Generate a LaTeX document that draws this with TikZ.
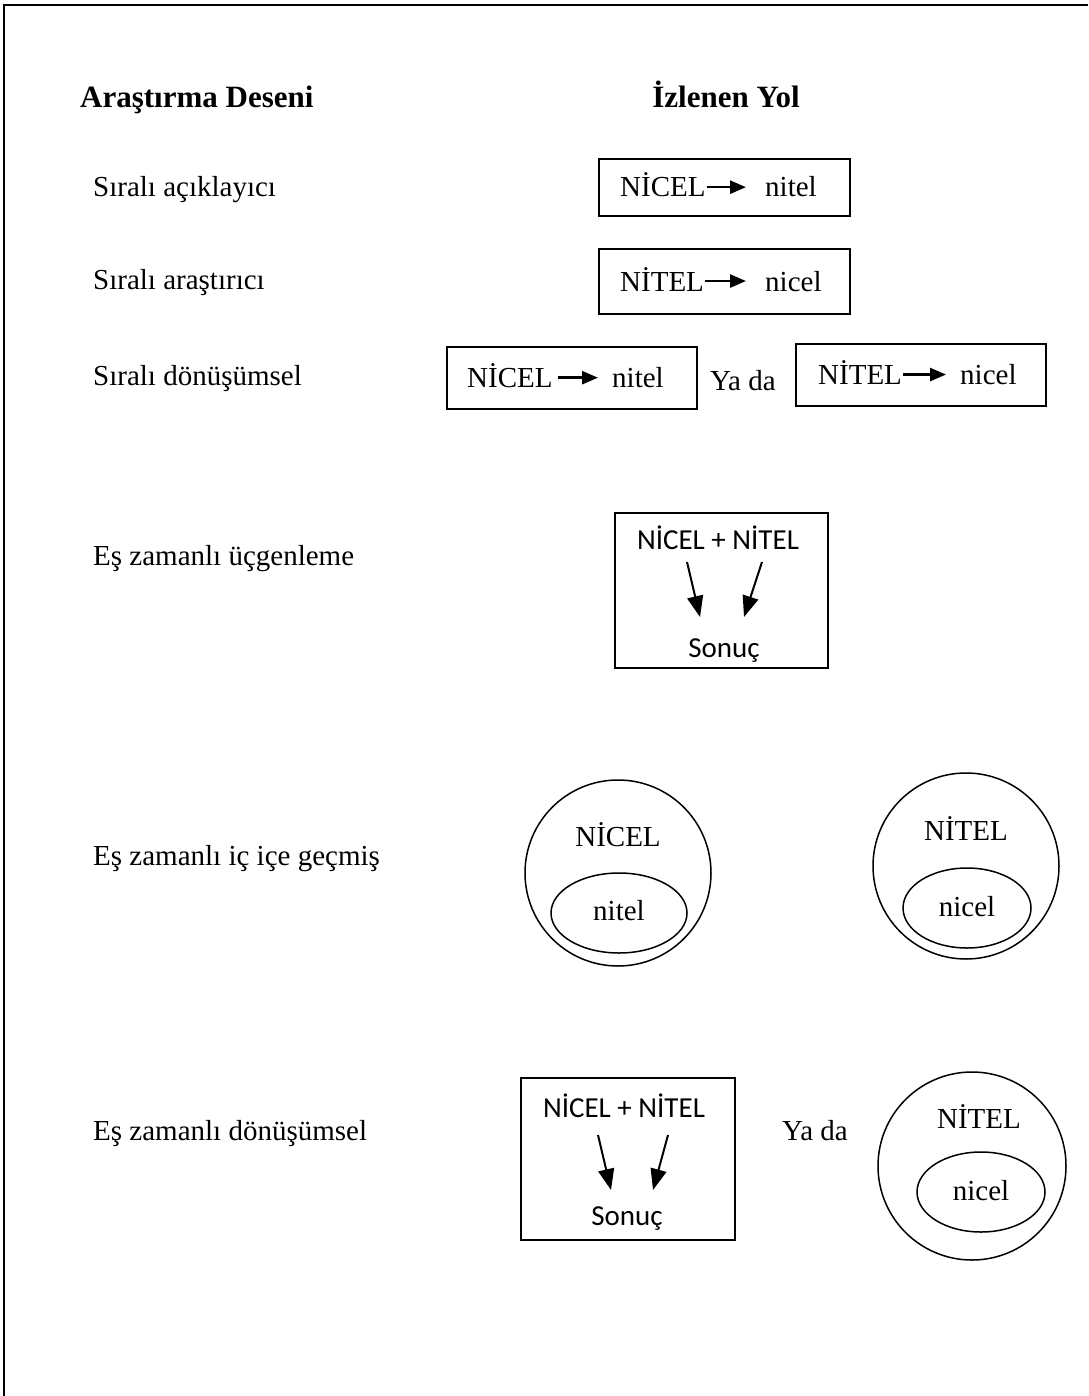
\documentclass[tikz,border=0pt]{standalone}
\usepackage{fontspec}
\setmainfont{Liberation Serif}
\newfontfamily\calib{Carlito}
\usetikzlibrary{arrows.meta,shapes.geometric}
\begin{document}
\begin{tikzpicture}[x=1pt,y=-1pt,
  txt/.style={inner sep=0pt, anchor=base west, font=\fontsize{29}{34}\selectfont},
  hdr/.style={inner sep=0pt, anchor=base west, font=\fontsize{31}{36}\selectfont\bfseries},
  ctxt/.style={inner sep=0pt, anchor=base, font=\fontsize{29}{34}\selectfont},
  sans/.style={inner sep=0pt, anchor=base, font=\fontsize{29}{34}\selectfont\calib},
  pbox/.style={draw, line width=1.5pt, inner sep=0pt},
  ring/.style={draw, line width=1.5pt, circle, inner sep=0pt},
  inner/.style={draw, line width=1.5pt, ellipse, inner sep=0pt},
  sarrow/.style={-{Triangle[length=16pt,width=13pt]}, line width=2.6pt},
  darrow/.style={-{Triangle[length=21pt,width=16pt]}, line width=2pt}
]
\useasboundingbox (0,0) rectangle (1088,1396);
% frame
\coordinate (fTL) at (4,5);
\coordinate (fTR) at (1088,5);
\coordinate (fBL) at (4,1396);
\draw[line width=2pt] (fTR) -- (fTL) -- (fBL);

% headers
\node[hdr] (h1) at (80,108) {Araştırma Deseni};
\node[hdr, anchor=base] (h2) at (726,108) {İzlenen Yol};

% left labels
\node[txt] (l1) at (93,197) {Sıralı açıklayıcı};
\node[txt] (l2) at (93,290) {Sıralı araştırıcı};
\node[txt] (l3) at (93,385) {Sıralı dönüşümsel};
\node[txt] (l4) at (93,565) {Eş zamanlı üçgenleme};
\node[txt] (l5) at (93,865) {Eş zamanlı iç içe geçmiş};
\node[txt] (l6) at (93,1140) {Eş zamanlı dönüşümsel};

% box 1
\node[pbox, minimum width=251pt, minimum height=57pt] (b1) at (724.5,187.5) {};
\node[txt] (b1a) at (620,197) {NİCEL};
\node[txt] (b1b) at (765,197) {nitel};
\draw[sarrow, shorten >=19pt] ([xshift=1pt,yshift=-2pt]b1a.east) -- ([yshift=-2pt]b1a.east -| b1b.west);

% box 2
\node[pbox, minimum width=251pt, minimum height=65pt] (b2) at (724.5,281.5) {};
\node[txt] (b2a) at (620,291) {NİTEL};
\node[txt] (b2b) at (765,291) {nicel};
\draw[sarrow, shorten >=19pt] ([xshift=1pt,yshift=-2pt]b2a.east) -- ([yshift=-2pt]b2a.east -| b2b.west);

% box 3
\node[pbox, minimum width=250pt, minimum height=62pt] (b3) at (572,378) {};
\node[txt] (b3a) at (467,387.5) {NİCEL};
\node[txt] (b3b) at (612,387.5) {nitel};
\draw[sarrow, shorten >=14pt] ([xshift=5pt,yshift=-2pt]b3a.east) -- ([yshift=-2pt]b3a.east -| b3b.west);

\node[txt] (y1) at (710,390) {Ya da};

% box 4
\node[pbox, minimum width=250pt, minimum height=62pt] (b4) at (921,375) {};
\node[txt] (b4a) at (818,384.5) {NİTEL};
\node[txt] (b4b) at (960,384.5) {nicel};
\draw[sarrow, shorten >=14pt] ([xshift=1pt,yshift=-2pt]b4a.east) -- ([yshift=-2pt]b4a.east -| b4b.west);

% box 5 (triangulation)
\node[pbox, minimum width=213pt, minimum height=155pt] (b5) at (721.5,590.5) {};
\node[sans] (b5t) at (718,549) {NİCEL + NİTEL};
\node[sans] (b5s) at (724,657) {Sonuç};
\coordinate (b5p1) at (687,562);
\coordinate (b5q1) at (700,617);
\coordinate (b5p2) at (762,562);
\coordinate (b5q2) at (744,617);
\draw[darrow] (b5p1) -- (b5q1);
\draw[darrow] (b5p2) -- (b5q2);

% circles row
\node[ring, minimum size=186pt] (c1) at (618,873) {};
\node[ctxt] (c1t) at (618,846) {NİCEL};
\node[inner, minimum width=136pt, minimum height=80pt] (e1) at (619,913) {};
\node[ctxt] (e1t) at (619,920) {nitel};

\node[ring, minimum size=186pt] (c2) at (966,866) {};
\node[ctxt] (c2t) at (966,840) {NİTEL};
\node[inner, minimum width=128pt, minimum height=80pt] (e2) at (967,908) {};
\node[ctxt] (e2t) at (967,916) {nicel};

% box 6
\node[pbox, minimum width=214pt, minimum height=162pt] (b6) at (628,1159) {};
\node[sans] (b6t) at (624,1117) {NİCEL + NİTEL};
\node[sans] (b6s) at (627,1225) {Sonuç};
\coordinate (b6p1) at (598,1135);
\coordinate (b6q1) at (611,1190);
\coordinate (b6p2) at (668,1135);
\coordinate (b6q2) at (653,1190);
\draw[darrow] (b6p1) -- (b6q1);
\draw[darrow] (b6p2) -- (b6q2);

\node[txt] (y2) at (782,1140) {Ya da};

\node[ring, minimum size=188pt] (c3) at (972,1166) {};
\node[ctxt] (c3t) at (979,1128) {NİTEL};
\node[inner, minimum width=128pt, minimum height=80pt] (e3) at (981,1192) {};
\node[ctxt] (e3t) at (981,1200) {nicel};
\end{tikzpicture}
\end{document}
